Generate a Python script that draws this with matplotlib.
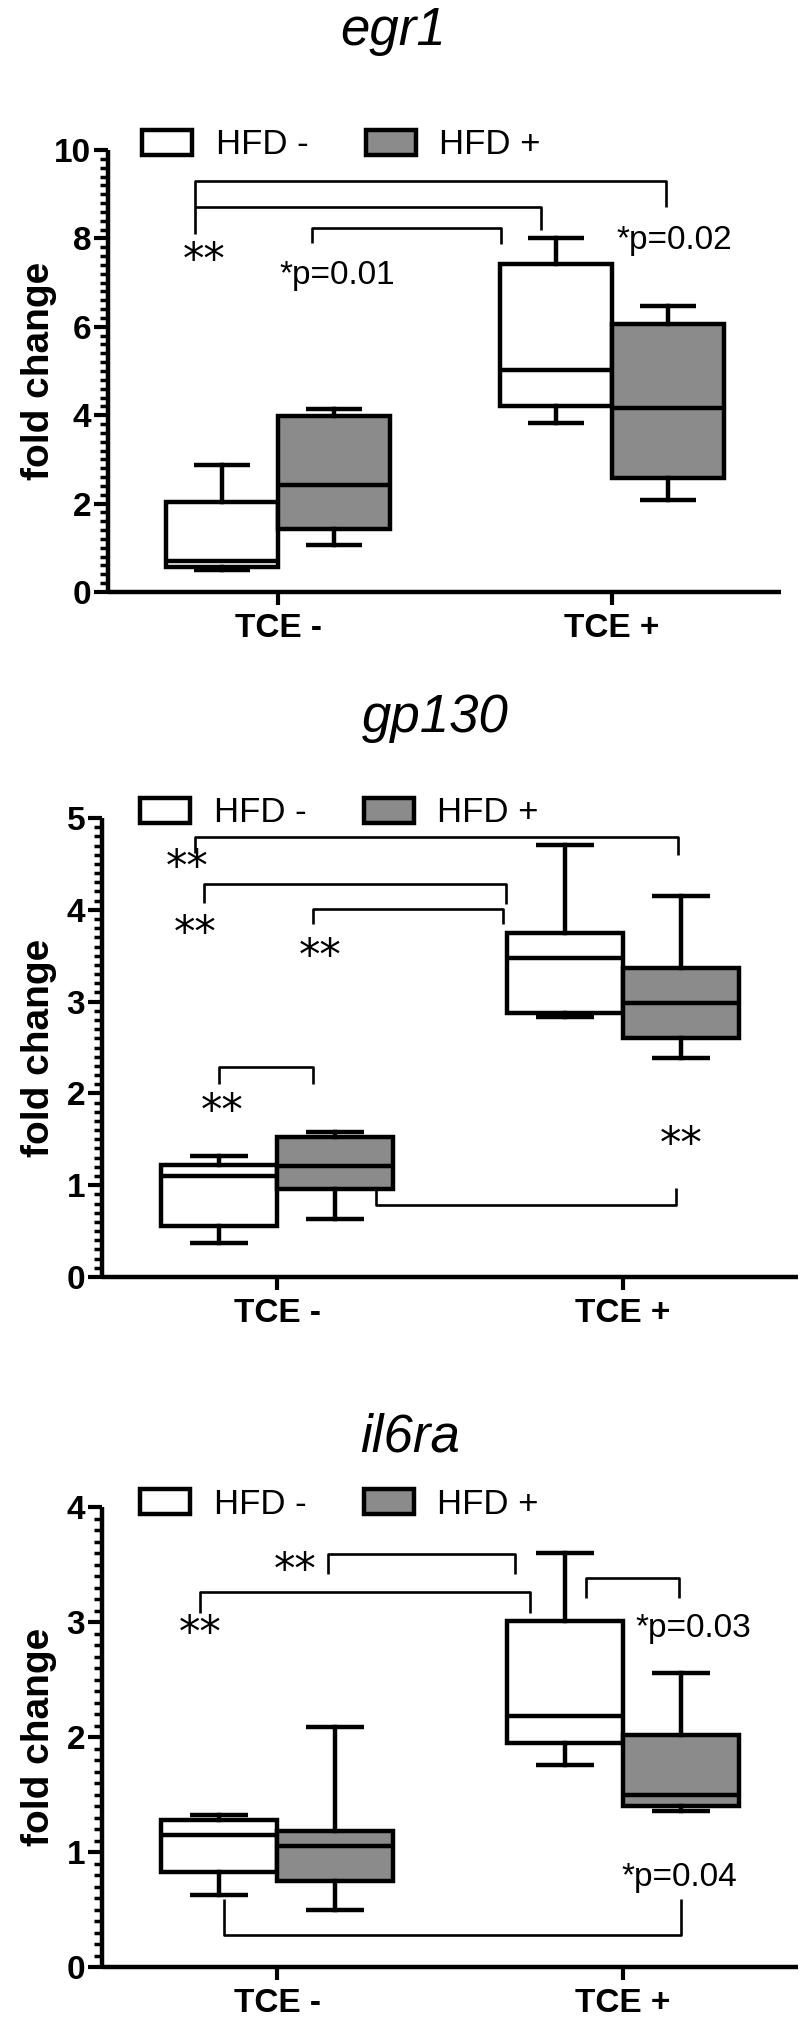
import matplotlib
matplotlib.use('Agg')
import matplotlib.pyplot as plt
from matplotlib.patches import Patch
from matplotlib.ticker import MultipleLocator

plt.rcParams['font.family'] = ['Liberation Sans', 'DejaVu Sans']

# ---------------- data ----------------
categories = ['TCE -', 'TCE +']
groups = ['HFD -', 'HFD +']
titles = ['egr1', 'gp130', 'il6ra']

# order of boxes: HFD- TCE-, HFD+ TCE-, HFD- TCE+, HFD+ TCE+
egr1_whislo = [0.50, 1.07, 3.83, 2.08]
egr1_q1 = [0.57, 1.43, 4.21, 2.57]
egr1_med = [0.71, 2.43, 5.03, 4.16]
egr1_q3 = [2.03, 3.98, 7.43, 6.07]
egr1_whishi = [2.88, 4.14, 8.00, 6.47]

gp130_whislo = [0.37, 0.63, 2.83, 2.39]
gp130_q1 = [0.56, 0.96, 2.88, 2.60]
gp130_med = [1.10, 1.21, 3.48, 2.99]
gp130_q3 = [1.22, 1.52, 3.75, 3.37]
gp130_whishi = [1.32, 1.58, 4.71, 4.15]

il6ra_whislo = [0.63, 0.50, 1.76, 1.36]
il6ra_q1 = [0.83, 0.75, 1.95, 1.40]
il6ra_med = [1.145, 1.05, 2.18, 1.50]
il6ra_q3 = [1.28, 1.18, 3.01, 2.02]
il6ra_whishi = [1.32, 2.09, 3.60, 2.56]

egr1_yticks = [0, 2, 4, 6, 8, 10]
gp130_yticks = [0, 1, 2, 3, 4, 5]
il6ra_yticks = [0, 1, 2, 3, 4]

# significance brackets: (x_left, x_right, y_bar, y_left_end, y_right_end)
egr1_brackets = [(-0.25, 1.162, 9.30, 8.10, 8.71),
                 (-0.25, 0.787, 8.70, 8.70, 8.19),
                 (0.103, 0.668, 8.24, 7.90, 7.88)]
egr1_labels = [(-0.222, 7.48, '**'), (0.179, 7.17, '*p=0.01'), (1.188, 7.95, '*p=0.02')]

gp130_brackets = [(-0.238, 1.159, 4.79, 4.62, 4.60),
                  (-0.211, 0.661, 4.28, 4.07, 4.06),
                  (0.104, 0.654, 4.01, 3.84, 3.84),
                  (-0.168, 0.104, 2.29, 2.10, 2.10),
                  (0.287, 1.152, 0.78, 0.96, 0.97)]
gp130_labels = [(-0.26, 4.46, '**'), (-0.238, 3.74, '**'), (0.126, 3.49, '**'),
                (-0.16, 1.80, '**'), (1.169, 1.44, '**')]

il6ra_brackets = [(0.148, 0.689, 3.59, 3.42, 3.42),
                  (-0.222, 0.73, 3.26, 3.08, 3.08),
                  (0.893, 1.163, 3.38, 3.21, 3.21),
                  (-0.153, 1.167, 0.28, 0.59, 0.59)]
il6ra_labels = [(0.052, 3.44, '**'), (-0.222, 2.90, '**'),
                (1.203, 2.94, '*p=0.03'), (1.163, 0.78, '*p=0.04')]

# ---------------- layout ----------------
W, H = 800, 2020
fig = plt.figure(figsize=(W / 100, H / 100), dpi=100)

panels = [
    dict(title=titles[0], stats=(egr1_whislo, egr1_q1, egr1_med, egr1_q3, egr1_whishi),
         yticks=egr1_yticks, minor=0.2, brackets=egr1_brackets, labels=egr1_labels,
         px=(108, 781, 150, 592), xlim=(-0.509, 1.506), title_xy=(393, 45), legend_xy=(142, 145)),
    dict(title=titles[1], stats=(gp130_whislo, gp130_q1, gp130_med, gp130_q3, gp130_whishi),
         yticks=gp130_yticks, minor=0.1, brackets=gp130_brackets, labels=gp130_labels,
         px=(102, 798, 818, 1277), xlim=(-0.506, 1.506), title_xy=(435, 732), legend_xy=(140, 813)),
    dict(title=titles[2], stats=(il6ra_whislo, il6ra_q1, il6ra_med, il6ra_q3, il6ra_whishi),
         yticks=il6ra_yticks, minor=0.1, brackets=il6ra_brackets, labels=il6ra_labels,
         px=(102, 798, 1507, 1967), xlim=(-0.506, 1.506), title_xy=(410, 1451), legend_xy=(140, 1504)),
]

gray = '#8b8b8b'
fills = ['white', gray, 'white', gray]
offset = 0.1675
bw = 0.335
lw = 3.2

for p in panels:
    l, r, t, b = p['px']
    ax = fig.add_axes([l / W, 1 - b / H, (r - l) / W, (b - t) / H])
    whislo, q1, med, q3, whishi = p['stats']
    stats = []
    positions = []
    for i in range(4):
        cat = i // 2
        grp = i % 2
        stats.append(dict(whislo=whislo[i], q1=q1[i], med=med[i], q3=q3[i], whishi=whishi[i],
                          label=f'{groups[grp]} {categories[cat]}'))
        positions.append(cat + (offset if grp else -offset))
    bp = ax.bxp(stats, positions=positions, widths=bw, capwidths=bw / 2,
                patch_artist=True, showfliers=False, manage_ticks=False,
                boxprops=dict(linewidth=lw, edgecolor='black'),
                medianprops=dict(color='black', linewidth=lw, solid_capstyle='butt'),
                whiskerprops=dict(color='black', linewidth=lw),
                capprops=dict(color='black', linewidth=lw, solid_capstyle='butt'))
    for patch, fc in zip(bp['boxes'], fills):
        patch.set_facecolor(fc)
        patch.set_joinstyle('miter')

    for (x1, x2, yb, e1, e2) in p['brackets']:
        ax.plot([x1, x1, x2, x2], [e1, yb, yb, e2], color='black', lw=1.9,
                solid_joinstyle='round', solid_capstyle='butt', clip_on=False, zorder=4)
    for (x, y, s) in p['labels']:
        if s == '**':
            ax.text(x, y, s, ha='center', va='center', fontsize=31,
                    family=['DejaVu Sans'], color='black')
        else:
            ax.text(x, y, s, ha='center', va='center', fontsize=24, color='black')

    ax.set_xlim(*p['xlim'])
    ax.set_ylim(p['yticks'][0], p['yticks'][-1])
    ax.set_xticks(range(len(categories)))
    ax.set_xticklabels(categories, fontsize=24, fontweight='bold')
    ax.set_yticks(p['yticks'])
    ax.set_yticklabels([str(v) for v in p['yticks']], fontsize=24, fontweight='bold')
    ax.yaxis.set_minor_locator(MultipleLocator(p['minor']))
    ax.tick_params(axis='y', which='major', direction='out', length=10, width=3, pad=2)
    ax.tick_params(axis='y', which='minor', direction='out', length=6, width=2.5)
    ax.tick_params(axis='x', which='major', direction='out', length=9, width=3, pad=6)
    ax.tick_params(axis='x', which='minor', bottom=False)
    for s in ['top', 'right']:
        ax.spines[s].set_visible(False)
    for s in ['left', 'bottom']:
        ax.spines[s].set_linewidth(3.2)
        ax.spines[s].set_capstyle('butt')
    ax.set_ylabel('fold change', fontsize=28, fontweight='bold')
    ax.yaxis.set_label_coords((57 - l) / (r - l), 0.5)

    handles = [Patch(facecolor='white', edgecolor='black', linewidth=3.2),
               Patch(facecolor=gray, edgecolor='black', linewidth=3.2)]
    lx, ly = p['legend_xy']
    ax.legend(handles, groups, ncol=2, loc='center left',
              bbox_to_anchor=(lx / W, 1 - ly / H), bbox_transform=fig.transFigure,
              frameon=False, borderpad=0, borderaxespad=0, fontsize=25,
              handlelength=1.44, handleheight=0.75, handletextpad=0.68, columnspacing=1.65)

    tx, ty = p['title_xy']
    fig.text(tx / W, 1 - ty / H, p['title'], ha='center', va='baseline',
             fontsize=38, style='italic')

fig.savefig('out.png', dpi=100, facecolor='white')
